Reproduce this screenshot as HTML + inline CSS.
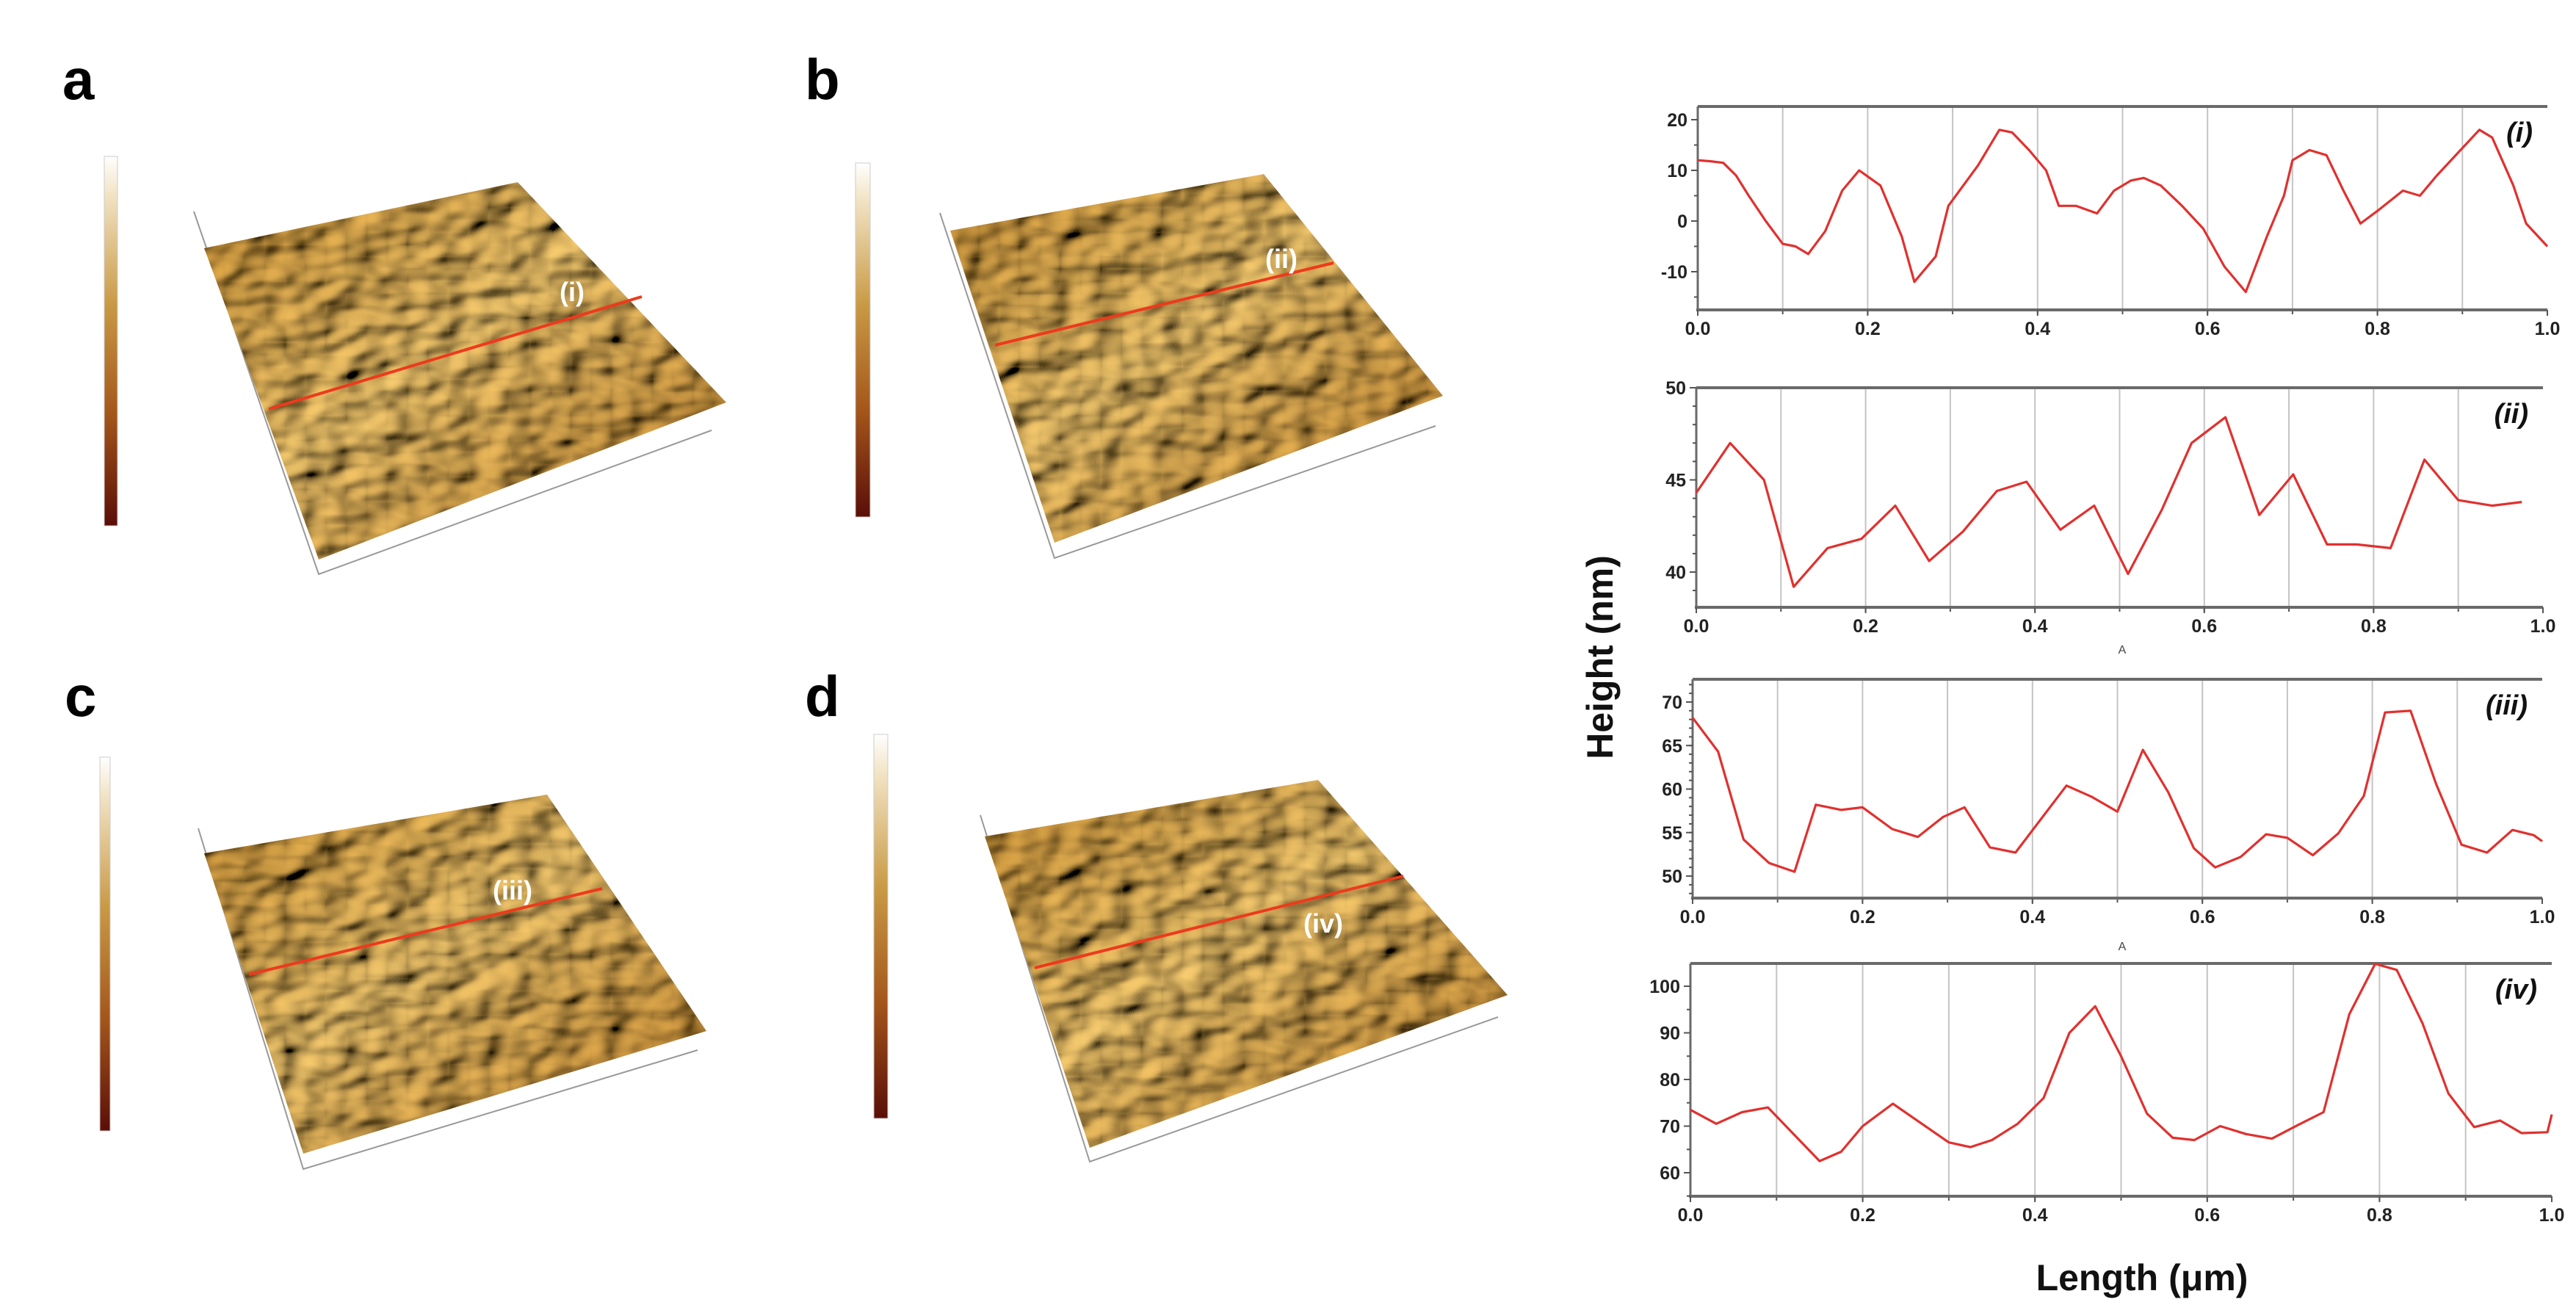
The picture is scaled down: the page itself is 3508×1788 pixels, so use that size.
<!DOCTYPE html>
<html><head><meta charset="utf-8">
<style>
html,body{margin:0;padding:0;background:#fff;}
svg{display:block;font-family:"Liberation Sans",sans-serif;}
</style></head>
<body>
<svg id="root" width="3508" height="1788" viewBox="0 0 3508 1788" xmlns="http://www.w3.org/2000/svg">
<defs>
  <linearGradient id="cbar" x1="0" y1="1" x2="0" y2="0">
    <stop offset="0" stop-color="#5a0e08"/><stop offset="0.3" stop-color="#a4561a"/>
    <stop offset="0.6" stop-color="#c99a45"/><stop offset="0.9" stop-color="#f2e4c6"/><stop offset="1" stop-color="#ffffff"/>
  </linearGradient>
  <linearGradient id="surf" x1="0" y1="0" x2="1" y2="1">
    <stop offset="0" stop-color="#c08a34"/><stop offset="0.45" stop-color="#e0b866"/><stop offset="1" stop-color="#b57a28"/>
  </linearGradient>
  <filter id="bumps" x="0" y="0" width="1" height="1">
    <feTurbulence type="fractalNoise" baseFrequency="0.018 0.03" numOctaves="2" seed="7" result="n"/>
    <feDiffuseLighting in="n" surfaceScale="14" lighting-color="#ffffff" result="l"><feDistantLight azimuth="210" elevation="35"/></feDiffuseLighting>
    <feComposite in="l" in2="SourceGraphic" operator="in" result="c"/>
    <feBlend in="SourceGraphic" in2="c" mode="multiply" result="m"/>
    <feComponentTransfer in="m"><feFuncR type="linear" slope="1.35"/><feFuncG type="linear" slope="1.35"/><feFuncB type="linear" slope="1.3"/></feComponentTransfer>
  </filter>
</defs>
<g id="afm"></g>
<g id="charts"></g>
<text x="0" y="0" transform="translate(2196,895) rotate(-90)" text-anchor="middle" font-size="50" font-weight="bold" fill="#111">Height (nm)</text>
<text x="2917" y="1757" text-anchor="middle" font-size="50" font-weight="bold" fill="#111">Length (μm)</text>
</svg>
<script>
// ---- profile data ----
const xI = [0,0.015,0.03,0.045,0.06,0.08,0.1,0.115,0.13,0.15,0.17,0.19,0.215,0.24,0.255,0.28,0.295,0.33,0.355,0.37,0.39,0.41,0.425,0.445,0.47,0.49,0.51,0.525,0.545,0.57,0.595,0.62,0.645,0.67,0.69,0.7,0.72,0.74,0.76,0.78,0.8,0.83,0.85,0.87,0.92,0.935,0.96,0.975,1.0];
const yI = [12,11.8,11.5,9,5,0,-4.5,-5,-6.5,-2,6,10,7,-3,-12,-7,3,11,18,17.5,14,10,3,3,1.5,6,8,8.5,7,3,-1.5,-9,-14,-3,5,12,14,13,6,-0.5,2,6,5,9,18,16.5,7,-0.5,-5];
const xII = [0,0.04,0.08,0.115,0.155,0.195,0.235,0.275,0.315,0.355,0.39,0.43,0.47,0.51,0.55,0.585,0.625,0.665,0.705,0.745,0.78,0.82,0.86,0.9,0.94,0.975];
const yII = [44.3,47,45,39.2,41.3,41.8,43.6,40.6,42.2,44.4,44.9,42.3,43.6,39.9,43.4,47,48.4,43.1,45.3,41.5,41.5,41.3,46.1,43.9,43.6,43.8];
const xIII = [0,0.03,0.06,0.09,0.12,0.145,0.175,0.2,0.235,0.265,0.295,0.32,0.35,0.38,0.44,0.47,0.5,0.53,0.56,0.59,0.615,0.645,0.675,0.7,0.73,0.76,0.79,0.815,0.845,0.875,0.905,0.935,0.965,0.99,1.0];
const yIII = [68.2,64.3,54.2,51.5,50.5,58.2,57.6,57.9,55.4,54.5,56.8,57.9,53.3,52.7,60.4,59.1,57.4,64.5,59.6,53.2,51,52.2,54.8,54.4,52.4,54.9,59.2,68.8,69,60.6,53.6,52.7,55.3,54.7,54];
const xIV = [0,0.03,0.06,0.09,0.15,0.175,0.2,0.235,0.3,0.325,0.35,0.38,0.41,0.44,0.47,0.5,0.53,0.56,0.585,0.615,0.645,0.675,0.705,0.735,0.765,0.795,0.82,0.85,0.88,0.91,0.94,0.965,0.995,1.0];
const yIV = [73.5,70.5,73,74,62.5,64.5,70,74.8,66.5,65.5,67,70.5,76,90,95.7,85,72.7,67.5,67,70,68.3,67.3,70.2,73,94,104.8,103.5,92,77,69.8,71.2,68.5,68.7,72.5];
const xTicks = [0,0.2,0.4,0.6,0.8,1.0];
const xTickLabels = ["0.0","0.2","0.4","0.6","0.8","1.0"];
const ticksI = [20,10,0,-10];
const ticksII = [50,45,40];
const ticksIII = [70,65,60,55,50];
const ticksIV = [100,90,80,70,60];

const NS = "http://www.w3.org/2000/svg";
function mk(tag, attrs, parent){const e=document.createElementNS(NS,tag);for(const k in attrs)e.setAttribute(k,attrs[k]);parent.appendChild(e);return e;}

function panel(cfg, xs, ys, ticks, minorStep, label, name){
  const g = mk('g',{},document.getElementById('charts'));
  
  
  const sx = v => cfg.L + (cfg.R-cfg.L)*v;
  const sy = v => cfg.yA + (v-cfg.vA)*(cfg.yB-cfg.yA)/(cfg.vB-cfg.vA);
  for(let i=1;i<10;i++){
    const gl = mk('line',{x1:sx(i/10),x2:sx(i/10),y1:cfg.T,y2:cfg.B,stroke:'#c4c4c4','stroke-width':2},g);
    
    
    mk('line',{x1:sx(i/10),x2:sx(i/10),y1:cfg.B,y2:cfg.B+6,stroke:'#555','stroke-width':2},g);
  }
  mk('line',{x1:cfg.L,x2:cfg.R,y1:cfg.T,y2:cfg.T,stroke:'#6a6a6a','stroke-width':4},g);
  mk('line',{x1:cfg.L-2,x2:cfg.R,y1:cfg.B,y2:cfg.B,stroke:'#6a6a6a','stroke-width':4},g);
  mk('line',{x1:cfg.L,x2:cfg.L,y1:cfg.T,y2:cfg.B,stroke:'#6a6a6a','stroke-width':3},g);
  const vTop = cfg.vA + (cfg.T-cfg.yA)*(cfg.vB-cfg.vA)/(cfg.yB-cfg.yA);
  const vBot = cfg.vA + (cfg.B-cfg.yA)*(cfg.vB-cfg.vA)/(cfg.yB-cfg.yA);
  for(let v=Math.ceil(Math.min(vTop,vBot)/minorStep)*minorStep; v<=Math.max(vTop,vBot); v+=minorStep){
    mk('line',{x1:cfg.L-5,x2:cfg.L,y1:sy(v),y2:sy(v),stroke:'#555','stroke-width':2},g);
  }
  ticks.forEach(t=>{
    mk('line',{x1:cfg.L-9,x2:cfg.L,y1:sy(t),y2:sy(t),stroke:'#555','stroke-width':2},g);
    const tx = mk('text',{x:cfg.L-14,y:sy(t)+9,'text-anchor':'end','font-size':25,'font-weight':'bold',fill:'#222'},g);
    tx.textContent = String(t);
    
    
  });
  xTicks.forEach((t,i)=>{
    mk('line',{x1:sx(t),x2:sx(t),y1:cfg.B,y2:cfg.B+8,stroke:'#555','stroke-width':2},g);
    const tx = mk('text',{x:sx(t),y:cfg.B+34,'text-anchor':'middle','font-size':25,'font-weight':'bold',fill:'#222'},g);
    tx.textContent = xTickLabels[i];
    
    
  });
  const pts = xs.map((x,i)=>sx(x).toFixed(1)+','+sy(ys[i]).toFixed(1)).join(' ');
  const pl = mk('polyline',{points:pts,fill:'none',stroke:'#e0312f','stroke-width':3.2,'stroke-linejoin':'round'},g);
  
  
  const lb = mk('text',{x:cfg.R-20,y:cfg.T+48,'text-anchor':'end','font-size':38,'font-weight':'bold','font-style':'italic',fill:'#111'},g);
  lb.textContent = label;
  
  
}
panel({L:2312,R:3469,T:145,B:422,yA:163,vA:20,yB:370,vB:-10}, xI, yI, ticksI, 5, '(i)', 'profile-i');
panel({L:2310,R:3463,T:528,B:827,yA:528,vA:50,yB:779,vB:40}, xII, yII, ticksII, 1, '(ii)', 'profile-ii');
panel({L:2305,R:3462,T:925,B:1223,yA:956,vA:70,yB:1193,vB:50}, xIII, yIII, ticksIII, 1, '(iii)', 'profile-iii');
panel({L:2302,R:3475,T:1312,B:1629,yA:1343,vA:100,yB:1597,vB:60}, xIV, yIV, ticksIV, 5, '(iv)', 'profile-iv');
[[2890,890],[2890,1294]].forEach(p=>{
  const t=mk('text',{x:p[0],y:p[1],'text-anchor':'middle','font-size':16,fill:'#444'},document.getElementById('charts'));
  t.textContent='A';
  
  
});

// ---- AFM 3D panels (decorative) ----
const afm = document.getElementById('afm');
const panels = [
 {n:'a',lx:85,ly:135,cb:[142,213,18,503],q:[[278,338],[705,248],[989,548],[434,762]],red:[[366,557],[874,404]],lab:'(i)',lp:[779,410],ax:[[264,288],[434,782],[969,586]]},
 {n:'b',lx:1096,ly:135,cb:[1165,222,20,482],q:[[1294,314],[1721,237],[1965,539],[1436,739]],red:[[1355,470],[1816,358]],lab:'(ii)',lp:[1745,365],ax:[[1280,290],[1436,760],[1955,580]]},
 {n:'c',lx:88,ly:975,cb:[136,1031,14,509],q:[[278,1162],[745,1082],[962,1404],[413,1571]],red:[[339,1327],[820,1210]],lab:'(iii)',lp:[698,1225],ax:[[270,1128],[413,1592],[950,1430]]},
 {n:'d',lx:1096,ly:975,cb:[1190,1000,19,523],q:[[1341,1139],[1795,1062],[2053,1355],[1484,1563]],red:[[1409,1318],[1911,1193]],lab:'(iv)',lp:[1802,1270],ax:[[1335,1110],[1484,1582],[2040,1385]]}
];
panels.forEach(p=>{
  const g = mk('g',{},afm);
  
  
  const L = mk('text',{x:p.lx,y:p.ly,'font-size':78,'font-weight':'bold',fill:'#000'},g);
  L.textContent = p.n;
  
  
  const cb = mk('rect',{x:p.cb[0],y:p.cb[1],width:p.cb[2],height:p.cb[3],fill:'url(#cbar)',stroke:'#ccc','stroke-width':1},g);
  
  
  mk('polyline',{points:p.ax.map(a=>a.join(',')).join(' '),fill:'none',stroke:'#999','stroke-width':2},g);
  const poly = mk('polygon',{points:p.q.map(a=>a.join(',')).join(' '),fill:'url(#surf)',filter:'url(#bumps)'},g);
  
  
  const r = mk('line',{x1:p.red[0][0],y1:p.red[0][1],x2:p.red[1][0],y2:p.red[1][1],stroke:'#ee3a1c','stroke-width':4},g);
  
  
  const t = mk('text',{x:p.lp[0],y:p.lp[1],'text-anchor':'middle','font-size':36,'font-weight':'bold',fill:'#fff'},g);
  t.textContent = p.lab;
  
  
});
</script>
</body></html>
